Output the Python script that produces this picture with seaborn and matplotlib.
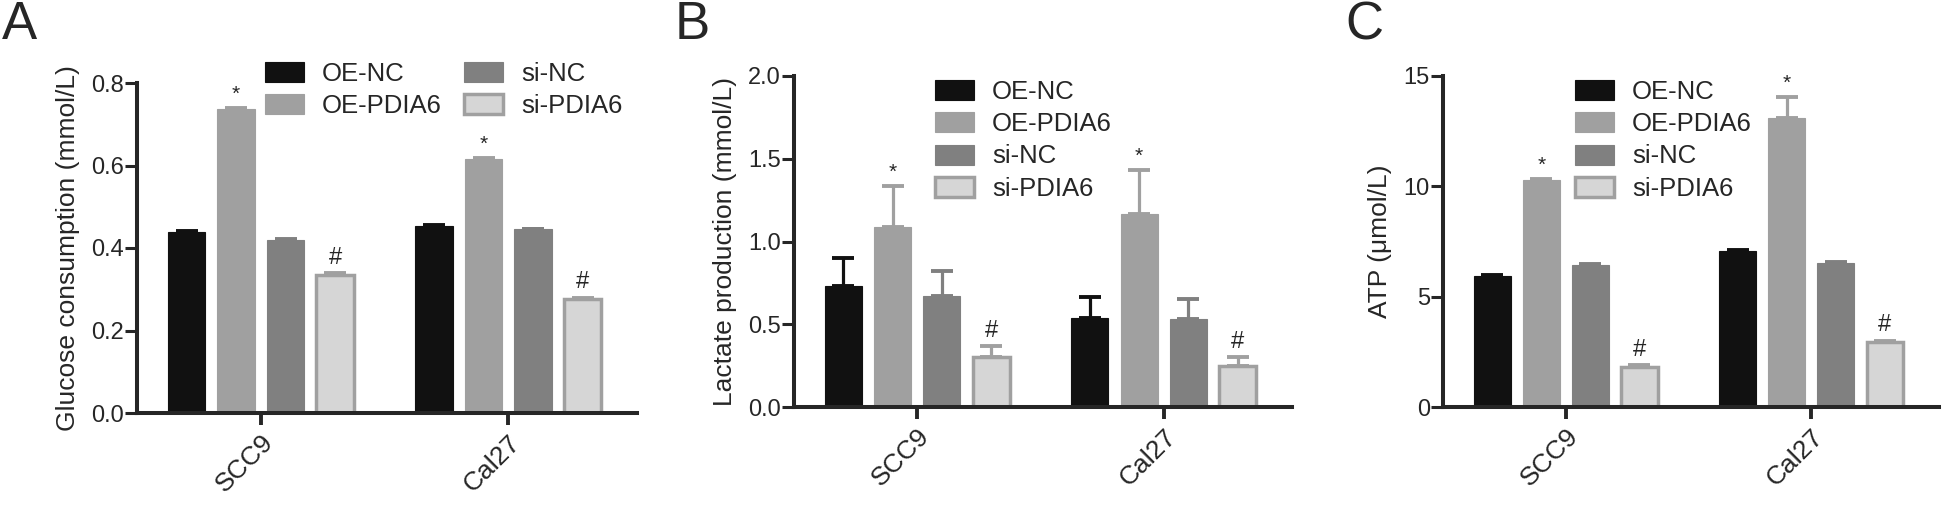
import matplotlib
matplotlib.use("Agg")
import matplotlib.pyplot as plt
from matplotlib.patches import Patch
import numpy as np
import pandas as pd
import seaborn as sns

groups = ["OE-NC", "OE-PDIA6", "si-NC", "si-PDIA6"]
cells = ["SCC9", "Cal27"]

glucose_scc9 = [0.439, 0.737, 0.419, 0.335]
glucose_cal27 = [0.454, 0.615, 0.445, 0.276]
glucose_err_scc9 = [0.003, 0.003, 0.002, 0.004]
glucose_err_cal27 = [0.002, 0.003, 0.002, 0.004]

lactate_scc9 = [0.733, 1.088, 0.673, 0.300]
lactate_cal27 = [0.540, 1.166, 0.530, 0.248]
lactate_err_scc9 = [0.169, 0.249, 0.149, 0.069]
lactate_err_cal27 = [0.127, 0.266, 0.121, 0.056]

atp_scc9 = [5.94, 10.27, 6.43, 1.83]
atp_cal27 = [7.08, 13.08, 6.54, 2.93]
atp_err_scc9 = [0.03, 0.05, 0.03, 0.08]
atp_err_cal27 = [0.03, 0.95, 0.03, 0.08]

# significance marks per group (same in both cell lines)
marks = ["", "*", "", "#"]

face = {"OE-NC": "#111111", "OE-PDIA6": "#a0a0a0", "si-NC": "#808080", "si-PDIA6": "#d6d6d6"}
edge = {"OE-NC": "#111111", "OE-PDIA6": "#a0a0a0", "si-NC": "#808080", "si-PDIA6": "#a0a0a0"}
edge_lw = {"OE-NC": 0.8, "OE-PDIA6": 0.8, "si-NC": 0.8, "si-PDIA6": 2.5}

sns.set_style("ticks")
plt.rcParams["font.family"] = ["Liberation Sans", "DejaVu Sans"]

W, H = 1946, 505
fig = plt.figure(figsize=(W / 100, H / 100), dpi=100)


def px_rect(left, right, top, bottom):
    return [left / W, 1 - bottom / H, (right - left) / W, (bottom - top) / H]


def panel(ax, scc9, cal27, err_scc9, err_cal27, ylim, yticks, fmt, ylabel):
    df = pd.DataFrame({
        "cell": [c for c in cells for _ in groups],
        "group": groups * 2,
        "value": scc9 + cal27,
        "err": err_scc9 + err_cal27,
    })
    sns.barplot(data=df, x="cell", y="value", hue="group", order=cells,
                hue_order=groups, palette=face, width=0.8, gap=0.25,
                errorbar=None, legend=False, saturation=1, ax=ax)
    for g, cont in zip(groups, ax.containers):
        for bar in cont:
            bar.set_edgecolor(edge[g])
            bar.set_linewidth(edge_lw[g])
            xc = bar.get_x() + bar.get_width() / 2
            cell = cells[int(round(xc))]
            row = df[(df.cell == cell) & (df.group == g)].iloc[0]
            ax.errorbar([xc], [row.value], yerr=[[0], [row.err]], fmt="none",
                        ecolor=edge[g], elinewidth=2.3, capsize=7.8,
                        capthick=2.8, zorder=1)
            m = marks[groups.index(g)]
            if m:
                ax.annotate(m, (xc, row.value + row.err), xytext=(0, 3),
                            textcoords="offset points", ha="center",
                            va="bottom", fontsize=17 if m == "#" else 15)
    ax.set_xlim(-0.5, 1.52)
    ax.set_ylim(*ylim)
    ax.set_yticks(yticks)
    ax.set_yticklabels([fmt.format(t) for t in yticks])
    ax.set_xlabel("")
    ax.set_ylabel(ylabel, fontsize=19, labelpad=8)
    ax.set_xticks(range(len(cells)))
    ax.set_xticklabels(cells, rotation=45, ha="right", rotation_mode="anchor",
                       fontsize=19)
    ax.tick_params(axis="y", length=8.5, width=2.2, pad=1, labelsize=17)
    ax.tick_params(axis="x", length=8.5, width=2.8, pad=4)
    for s in ["left", "bottom"]:
        ax.spines[s].set_linewidth(2.9)
    sns.despine(ax=ax)


handles = [Patch(facecolor=face[g], edgecolor=edge[g], linewidth=edge_lw[g], label=g)
           for g in groups]
leg_kw = dict(frameon=False, fontsize=18.5, handlelength=1.52, handleheight=0.82,
              handletextpad=0.7, labelspacing=0.32, borderpad=0, borderaxespad=0,
              loc="upper left")

axA = fig.add_axes(px_rect(137, 637, 83, 413))
panel(axA, glucose_scc9, glucose_cal27, glucose_err_scc9, glucose_err_cal27,
      (0, 0.8), [0, 0.2, 0.4, 0.6, 0.8], "{:.1f}", "Glucose consumption (mmol/L)")
axA.legend(handles=handles, ncol=2, columnspacing=0.85,
           bbox_to_anchor=(265 / W, 1 - 62 / H), bbox_transform=fig.transFigure,
           **leg_kw)

axB = fig.add_axes(px_rect(794, 1292, 76, 407))
panel(axB, lactate_scc9, lactate_cal27, lactate_err_scc9, lactate_err_cal27,
      (0, 2.0), [0, 0.5, 1.0, 1.5, 2.0], "{:.1f}", "Lactate production (mmol/L)")
axB.legend(handles=handles, bbox_to_anchor=(935 / W, 1 - 80 / H),
           bbox_transform=fig.transFigure, **leg_kw)

axC = fig.add_axes(px_rect(1443, 1939, 76, 407))
panel(axC, atp_scc9, atp_cal27, atp_err_scc9, atp_err_cal27,
      (0, 15), [0, 5, 10, 15], "{:.0f}", "ATP (μmol/L)")
axC.legend(handles=handles, bbox_to_anchor=(1575 / W, 1 - 80 / H),
           bbox_transform=fig.transFigure, **leg_kw)

for lab, x in [("A", 2), ("B", 675), ("C", 1345)]:
    fig.text(x / W, 1.0, lab, fontsize=38, ha="left", va="top")

fig.savefig("out.png", dpi=100)
